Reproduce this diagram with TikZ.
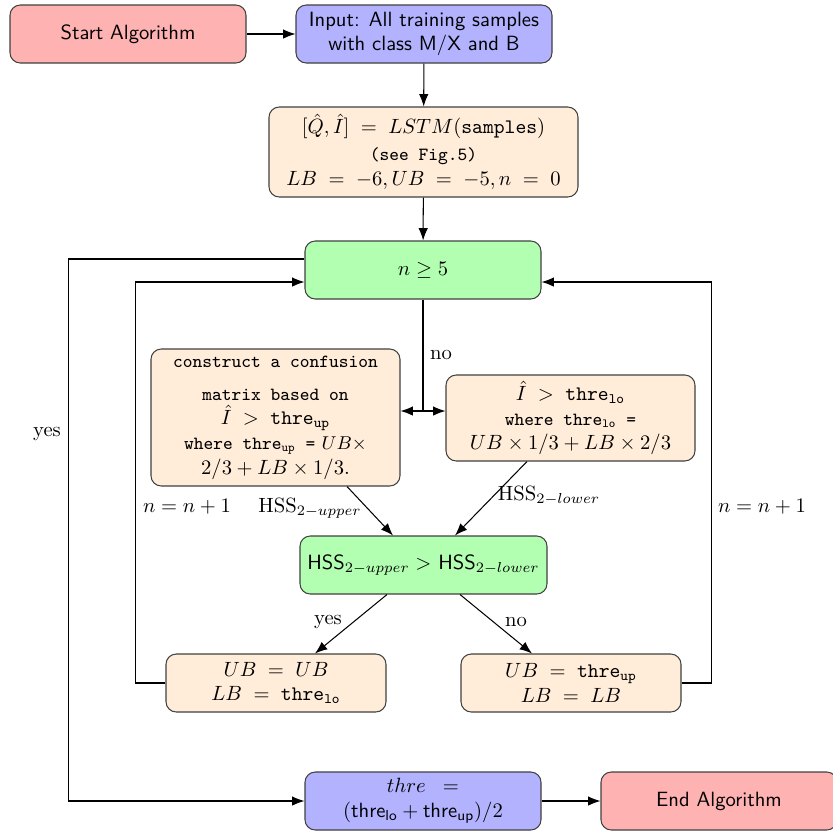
\documentclass[tikz,border=0pt]{standalone}
\usetikzlibrary{arrows.meta,calc}
\newcommand\pxu{0.485}
\begin{document}
\begin{tikzpicture}[x=\pxu pt,y=-\pxu pt,
  box/.style={draw=black!75, rounded corners=5pt, align=center, inner sep=2pt, line width=0.5pt},
  redbox/.style={box, fill=red!30, font=\sffamily},
  bluebox/.style={box, fill=blue!30},
  orbox/.style={box, fill=orange!15},
  grbox/.style={box, fill=green!30},
  arr/.style={-{Latex[length=6pt,width=4.6pt]}, line width=0.5pt},
  lab/.style={inner sep=1pt}
]
\useasboundingbox (0,0) rectangle (833,833);
\node[redbox, minimum width=236*\pxu pt, minimum height=58*\pxu pt] (start) at (128,34) {Start Algorithm};
\node[bluebox, font=\sffamily, minimum width=256*\pxu pt, minimum height=58*\pxu pt] (input) at (424,34) {Input: All training samples\\with class M/X and B};
\node[orbox, minimum width=309*\pxu pt, minimum height=90*\pxu pt] (lstm) at (423.5,152) {$[\hat{Q},\hat{I}] \;=\; LSTM(\texttt{samples})$\\[1pt] {\small\texttt{(see Fig.5)}}\\ $LB \;=\; -6, UB \;=\; -5, n \;=\; 0$};
\node[grbox, minimum width=236*\pxu pt, minimum height=58*\pxu pt] (n5) at (423,270) {$n \geq 5$};
\node[orbox, minimum width=249*\pxu pt, minimum height=137*\pxu pt] (conf) at (275.5,417.5) {\small\texttt{construct a confusion}\\[4pt] \small\texttt{matrix based on}\\ $\hat{I} \;>\; \texttt{thre}_{\mathtt{up}}$\\ \small\texttt{where thre$_{\mathtt{up}}$ =} $UB\times$\\ $2/3 + LB\times 1/3$.};
\node[orbox, minimum width=249*\pxu pt, minimum height=86*\pxu pt] (lo) at (570.5,418) {$\hat{I} \;>\; \texttt{thre}_{\mathtt{lo}}$\\ \small\texttt{where thre$_{\mathtt{lo}}$ =}\\ $UB\times 1/3 + LB\times 2/3$};
\node[grbox, minimum width=247*\pxu pt, minimum height=58*\pxu pt] (hss) at (423.5,565) {\textsf{HSS}$_{2-upper} >$ \textsf{HSS}$_{2-lower}$};
\node[orbox, minimum width=220*\pxu pt, minimum height=58*\pxu pt] (ubl) at (276,683) {$UB \;=\; UB$\\ $LB \;=\; \texttt{thre}_{\mathtt{lo}}$};
\node[orbox, minimum width=220*\pxu pt, minimum height=58*\pxu pt] (ubr) at (571,683) {$UB \;=\; \texttt{thre}_{\mathtt{up}}$\\ $LB \;=\; LB$};
\node[bluebox, minimum width=236*\pxu pt, minimum height=58*\pxu pt] (thre) at (423,801) {$thre\;\;=$\\ $(\mathsf{thre}_{\mathsf{lo}} + \mathsf{thre}_{\mathsf{up}})/2$};
\node[redbox, minimum width=236*\pxu pt, minimum height=58*\pxu pt] (end) at (719,801) {End Algorithm};

\draw[arr] (start) -- (input);
\draw[arr] (input) -- (lstm);
\draw[arr] (lstm) -- (n5);
\coordinate (split) at (423,411);
\draw[line width=0.5pt] (n5.south) -- (split);
\draw[arr] (split) -- (conf.east |- split);
\draw[arr] (split) -- (lo.west |- split);
\node[lab] (nolab) at (441,355) {no};

\draw[arr] ([xshift=71.5*\pxu pt]conf.south) -- ([xshift=-30.5*\pxu pt]hss.north);
\draw[arr] ([xshift=-43.5*\pxu pt]lo.south) -- ([xshift=31.5*\pxu pt]hss.north);
\node[lab] (hssup) at (310,508) {$\mathrm{HSS}_{2-upper}$};
\node[lab] (hsslo) at (549,496) {$\mathrm{HSS}_{2-lower}$};

\draw[arr] ([xshift=-36.5*\pxu pt]hss.south) -- ([xshift=39*\pxu pt]ubl.north);
\draw[arr] ([xshift=36.5*\pxu pt]hss.south) -- ([xshift=-39*\pxu pt]ubr.north);
\node[lab] (yes2) at (328,622) {yes};
\node[lab] (no2) at (516,622) {no};

\draw[arr] (ubl.west) -- ++(-30,0) |- ([yshift=-12*\pxu pt]n5.west);
\draw[arr] (ubr.east) -- ++(30,0) |- ([yshift=-12*\pxu pt]n5.east);
\node[lab] (inc1) at (187,507) {$n = n+1$};
\node[lab] (inc2) at (762,507) {$n = n+1$};

\draw[arr] ([yshift=11*\pxu pt]n5.west) -- ++(-236,0) |- (thre.west);
\node[lab] (yes1) at (47,434) {yes};
\draw[arr] (thre) -- (end);
\end{tikzpicture}
\end{document}
